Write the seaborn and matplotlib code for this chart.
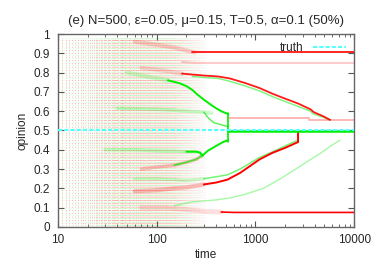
import numpy as np
import matplotlib
matplotlib.use("Agg")
import matplotlib.pyplot as plt
import seaborn as sns

# time steps where the early, still-spread opinions show up as dotted columns
column_times = list(range(10, 320))

# truth level
truth_t = [10, 10000]
truth_y = [0.5, 0.5]

# cluster trajectories (time, opinion)
red_top_t = [230, 10000]
red_top_y = [0.905, 0.905]
red_top_form_t = [60, 100, 150, 200, 240]
red_top_form_y = [0.96, 0.945, 0.93, 0.915, 0.905]

pink_85_t = [180, 250, 10000]
pink_85_y = [0.855, 0.85, 0.85]

red_desc_t = [180, 230, 300, 420, 550, 800, 1100, 1500, 2000, 2700, 3600, 3900, 4800, 5700]
red_desc_y = [0.795, 0.79, 0.785, 0.78, 0.77, 0.745, 0.72, 0.69, 0.665, 0.64, 0.61, 0.595, 0.575, 0.555]
green_desc_t = [230, 300, 420, 550, 800, 1100, 1500, 2000, 2700, 3600, 3900, 4800, 5700]
green_desc_y = [0.78, 0.775, 0.77, 0.755, 0.73, 0.705, 0.675, 0.65, 0.625, 0.60, 0.585, 0.57, 0.555]
desc_form_t = [70, 120, 180]
desc_form_y = [0.825, 0.81, 0.795]

pink_56_t = [530, 3500, 3500, 10000]
pink_56_y = [0.565, 0.565, 0.555, 0.555]

green_fall_t = [130, 170, 200, 230, 260, 300, 350, 400, 450, 530]
green_fall_y = [0.76, 0.745, 0.73, 0.71, 0.685, 0.66, 0.635, 0.615, 0.60, 0.585]
fall_form_t = [50, 80, 130]
fall_form_y = [0.80, 0.78, 0.76]

band_60_t = [40, 70, 100, 150, 200, 300, 360]
band_60_y = [0.615, 0.612, 0.61, 0.605, 0.60, 0.595, 0.59]
split_53_t = [300, 340, 380, 450, 530]
split_53_y = [0.595, 0.56, 0.54, 0.53, 0.52]

green_mid_t = [530, 10000]
green_mid_y = [0.497, 0.497]
jump_530_t = [530, 530]
jump_530_y = [0.44, 0.59]

band_40_t = [30, 60, 100, 150, 200, 250, 275, 290]
band_40_y = [0.40, 0.40, 0.395, 0.393, 0.39, 0.39, 0.385, 0.37]
band_33_t = [70, 100, 150, 200, 250, 290]
band_33_y = [0.30, 0.31, 0.32, 0.335, 0.35, 0.37]
rise_45_t = [290, 330, 400, 470, 530]
rise_45_y = [0.37, 0.395, 0.42, 0.44, 0.45]

red_rise_t = [60, 100, 150, 200, 300, 400, 520, 700, 1100, 1500, 2000, 2700, 2700]
red_rise_y = [0.185, 0.19, 0.20, 0.205, 0.22, 0.23, 0.245, 0.28, 0.35, 0.385, 0.41, 0.44, 0.5]
green_rise_t = [60, 100, 150, 200, 300, 400, 520, 700, 1100, 1500, 2000, 2700]
green_rise_y = [0.25, 0.25, 0.245, 0.24, 0.25, 0.26, 0.27, 0.30, 0.36, 0.39, 0.42, 0.45]

green_faint_t = [150, 230, 400, 550, 800, 1200, 1800, 2650, 3500, 4500, 5800, 7200]
green_faint_y = [0.11, 0.13, 0.14, 0.15, 0.17, 0.20, 0.25, 0.305, 0.345, 0.38, 0.42, 0.45]

red_bottom_t = [70, 120, 200, 300, 450, 600, 10000]
red_bottom_y = [0.10, 0.10, 0.09, 0.08, 0.077, 0.075, 0.075]

RED = "#ff0000"
GREEN = "#00ee00"
CYAN = "#55ffff"

sns.set_style("ticks")
plt.rcParams["font.family"] = ["Liberation Sans", "DejaVu Sans"]

fig = plt.figure(figsize=(3.74, 2.62), dpi=100)
ax = fig.add_axes([0.155, 0.134, 0.792, 0.736])

# early spread of opinions: faint dotted columns; columns crowd together on the
# log axis, so each one gets lighter, and they fade out as clusters form
for t in column_times:
    a = 0.35 * min(1.0, 40.0 / t)
    if t > 120:
        a *= (320 - t) / 200
    ax.vlines(t, 0.0, 0.98, colors=RED, linestyles=(0, (0.7, 2.3)), lw=0.8, alpha=a)
    ax.vlines(t * 1.004, 0.0, 0.98, colors=GREEN, linestyles=(1.5, (0.7, 2.3)), lw=0.8, alpha=a * 0.8)


def draw(t, y, color, lw=1.3, alpha=1.0):
    sns.lineplot(x=t, y=y, ax=ax, color=color, lw=lw, alpha=alpha,
                 estimator=None, sort=False, legend=False)


# forming clusters (fuzzy)
draw(red_top_form_t, red_top_form_y, RED, lw=3, alpha=0.18)
draw(desc_form_t, desc_form_y, RED, lw=3, alpha=0.15)
draw(fall_form_t, fall_form_y, GREEN, lw=3, alpha=0.18)
draw(band_60_t, band_60_y, GREEN, lw=2.5, alpha=0.22)
draw(band_40_t, band_40_y, GREEN, lw=2.5, alpha=0.22)
draw(band_33_t, band_33_y, RED, lw=2.5, alpha=0.22)
draw(red_rise_t[:5], red_rise_y[:5], RED, lw=3, alpha=0.25)
draw(green_rise_t[:5], green_rise_y[:5], GREEN, lw=2.5, alpha=0.18)
draw(red_bottom_t[:5], red_bottom_y[:5], RED, lw=3.5, alpha=0.13)

# settled clusters
draw(red_top_t, red_top_y, RED, lw=1.2)
draw(pink_85_t, pink_85_y, RED, lw=1.5, alpha=0.2)
draw(green_desc_t, green_desc_y, GREEN, lw=1.1, alpha=0.5)
draw(red_desc_t, red_desc_y, RED, lw=1.3, alpha=0.9)
draw(pink_56_t, pink_56_y, RED, lw=1.3, alpha=0.3)
draw(green_fall_t, green_fall_y, GREEN, lw=1.4)
draw(split_53_t, split_53_y, GREEN, lw=1.0, alpha=0.7)
draw(jump_530_t, jump_530_y, GREEN, lw=1.2)
draw(band_40_t[4:], band_40_y[4:], GREEN, lw=1.4)
draw(band_33_t[2:], band_33_y[2:], GREEN, lw=1.2, alpha=0.7)
draw(rise_45_t, rise_45_y, GREEN, lw=1.4)
draw(green_rise_t[4:], green_rise_y[4:], GREEN, lw=1.1, alpha=0.55)
draw(red_rise_t[4:], red_rise_y[4:], RED, lw=1.4)
draw(green_faint_t, green_faint_y, GREEN, lw=1.0, alpha=0.35)
draw(red_bottom_t[4:], red_bottom_y[4:], RED, lw=1.2)

# truth line and the strong green cluster on top of it
ax.plot(truth_t, truth_y, color=CYAN, lw=1.5, ls=(0, (2, 1)), label="truth", zorder=3)
draw(green_mid_t, green_mid_y, GREEN, lw=1.8)

ax.set_xscale("log")
ax.set_xlim(10, 10000)
ax.set_ylim(0, 1)
ax.set_yticks(np.arange(0, 1.01, 0.1))
ax.set_yticklabels(["0", "0.1", "0.2", "0.3", "0.4", "0.5", "0.6", "0.7", "0.8", "0.9", "1"])
ax.set_xticks([10, 100, 1000, 10000])
ax.set_xticklabels(["10", "100", "1000", "10000"])
ax.tick_params(which="both", direction="in", top=True, right=True, labelsize=8.5,
               color="#555555")
ax.tick_params(axis="x", pad=5)
ax.tick_params(axis="y", pad=6)
ax.tick_params(which="major", length=4)
ax.tick_params(which="minor", length=2)
for s in ax.spines.values():
    s.set_color("#666666")
    s.set_linewidth(1.0)

ax.set_xlabel("time", fontsize=8.5, labelpad=2)
ax.set_ylabel("opinion", fontsize=8.5, labelpad=3)
ax.set_title("(e) N=500, \u03b5=0.05, \u03bc=0.15, T=0.5, \u03b1=0.1 (50%)", fontsize=9.5, pad=7)

ax.legend(loc="upper right", frameon=False, fontsize=8.5, markerfirst=False,
          handlelength=2.8, borderaxespad=0.3, handletextpad=0.8)

fig.savefig("out.png", dpi=100)
